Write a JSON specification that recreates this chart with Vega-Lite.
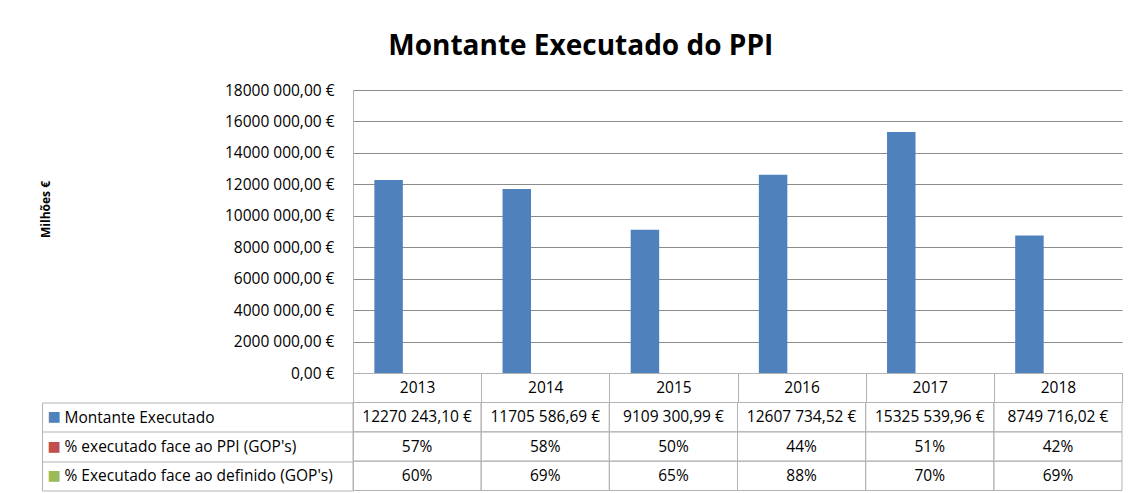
{
  "$schema": "https://vega.github.io/schema/vega-lite/v6.json",
  "padding": {"left": 39, "top": 33, "right": 6, "bottom": 1},
  "background": "white",
  "config": {
    "locale": {"number": {"decimal": ",", "thousands": " ", "grouping": [3, 100], "currency": ["", " €"]}},
    "font": "Open Sans",
    "view": {"stroke": null}
  },
  "title": {"text": "Montante Executado do PPI", "fontSize": 28, "fontWeight": "bold", "font": "Open Sans", "color": "#000000", "anchor": "middle", "offset": 22},
  "datasets": {
    "ppi": [
      {"year": "2013", "series": "Montante Executado", "value": 12270243.10},
      {"year": "2013", "series": "% executado face ao PPI (GOP's)", "value": 0.57},
      {"year": "2013", "series": "% Executado face ao definido (GOP's)", "value": 0.60},
      {"year": "2014", "series": "Montante Executado", "value": 11705586.69},
      {"year": "2014", "series": "% executado face ao PPI (GOP's)", "value": 0.58},
      {"year": "2014", "series": "% Executado face ao definido (GOP's)", "value": 0.69},
      {"year": "2015", "series": "Montante Executado", "value": 9109300.99},
      {"year": "2015", "series": "% executado face ao PPI (GOP's)", "value": 0.50},
      {"year": "2015", "series": "% Executado face ao definido (GOP's)", "value": 0.65},
      {"year": "2016", "series": "Montante Executado", "value": 12607734.52},
      {"year": "2016", "series": "% executado face ao PPI (GOP's)", "value": 0.44},
      {"year": "2016", "series": "% Executado face ao definido (GOP's)", "value": 0.88},
      {"year": "2017", "series": "Montante Executado", "value": 15325539.96},
      {"year": "2017", "series": "% executado face ao PPI (GOP's)", "value": 0.51},
      {"year": "2017", "series": "% Executado face ao definido (GOP's)", "value": 0.70},
      {"year": "2018", "series": "Montante Executado", "value": 8749716.02},
      {"year": "2018", "series": "% executado face ao PPI (GOP's)", "value": 0.42},
      {"year": "2018", "series": "% Executado face ao definido (GOP's)", "value": 0.69}
    ]
  },
  "vconcat": [
    {
      "width": 769,
      "height": 283,
      "data": {"name": "ppi"},
      "mark": {"type": "bar"},
      "encoding": {
        "x": {
          "field": "year", "type": "nominal",
          "scale": {"paddingInner": 0, "paddingOuter": 0},
          "axis": {
            "title": null, "orient": "bottom", "labelAngle": 0,
            "tickBand": "extent", "ticks": true, "tickSize": 29.5, "tickColor": "#b3b3b3",
            "domain": true, "domainColor": "#b3b3b3",
            "labelFont": "Open Sans", "labelFontSize": 15.5, "labelColor": "#000000",
            "labelBaseline": "middle", "labelPadding": -14.75, "grid": false
          }
        },
        "xOffset": {
          "field": "series", "type": "nominal",
          "sort": ["Montante Executado", "% executado face ao PPI (GOP's)", "% Executado face ao definido (GOP's)"],
          "scale": {"paddingInner": 0, "paddingOuter": 0.75}
        },
        "y": {
          "field": "value", "type": "quantitative",
          "scale": {"domain": [0, 18000000], "nice": false},
          "axis": {
            "title": "Milhões €", "titleFont": "Open Sans", "titleFontSize": 12, "titleFontWeight": "bold", "titleColor": "#000000",
            "titleX": -308, "titleY": 119, "titleAngle": -90, "titleBaseline": "middle", "titleAlign": "center",
            "values": [0, 2000000, 4000000, 6000000, 8000000, 10000000, 12000000, 14000000, 16000000, 18000000],
            "format": "$,.2f",
            "grid": true, "gridColor": "#8c8c8c", "gridWidth": 1,
            "ticks": false, "tickSize": 0,
            "domain": true, "domainColor": "#b3b3b3",
            "labelFont": "Open Sans", "labelFontSize": 15.5, "labelColor": "#000000", "labelPadding": 19
          }
        },
        "color": {
          "field": "series", "type": "nominal",
          "scale": {
            "domain": ["Montante Executado", "% executado face ao PPI (GOP's)", "% Executado face ao definido (GOP's)"],
            "range": ["#4F81BD", "#C0504D", "#9BBB59"]
          },
          "legend": null
        }
      }
    },
    {
      "width": 769,
      "height": 88,
      "data": {"name": "ppi"},
      "layer": [
        {
          "mark": {"type": "rect", "fill": "transparent", "stroke": "#b3b3b3", "strokeWidth": 1},
          "encoding": {
            "x": {"field": "year", "type": "nominal", "scale": {"paddingInner": 0, "paddingOuter": 0}, "axis": null},
            "y": {
              "field": "series", "type": "nominal",
              "sort": ["Montante Executado", "% executado face ao PPI (GOP's)", "% Executado face ao definido (GOP's)"],
              "scale": {"paddingInner": 0, "paddingOuter": 0},
              "axis": {
                "orient": "left", "offset": 311, "title": null, "grid": false,
                "domain": true, "domainColor": "#b3b3b3",
                "ticks": false, "tickSize": 0,
                "labelExpr": "'■'", "labelFont": "DejaVu Sans", "labelFontSize": 14,
                "labelAlign": "left", "labelBaseline": "middle", "labelPadding": -5,
                "labelColor": {
                  "condition": [
                    {"test": "datum.value === 'Montante Executado'", "value": "#4F81BD"},
                    {"test": "datum.value === \"% executado face ao PPI (GOP's)\"", "value": "#C0504D"}
                  ],
                  "value": "#9BBB59"
                }
              }
            }
          }
        },
        {
          "mark": {"type": "text", "fontSize": 15.5, "font": "Open Sans", "color": "#000000"},
          "encoding": {
            "x": {"field": "year", "type": "nominal", "axis": null},
            "y": {
              "field": "series", "type": "nominal",
              "sort": ["Montante Executado", "% executado face ao PPI (GOP's)", "% Executado face ao definido (GOP's)"],
              "scale": {"paddingInner": 0, "paddingOuter": 0},
              "axis": {
                "orient": "left", "title": null, "grid": false,
                "domain": true, "domainColor": "#b3b3b3",
                "ticks": true, "tickBand": "extent", "tickSize": 311, "tickColor": "#b3b3b3",
                "labelFont": "Open Sans", "labelFontSize": 15.5, "labelColor": "#000000",
                "labelAlign": "left", "labelBaseline": "middle", "labelPadding": -22, "labelLimit": 300
              }
            },
            "text": {
              "condition": {"test": "datum.series === 'Montante Executado'", "field": "value", "type": "quantitative", "format": "$,.2f"},
              "field": "value", "type": "quantitative", "format": ".0%"
            }
          }
        }
      ],
      "resolve": {"scale": {"y": "independent"}, "axis": {"y": "independent"}}
    }
  ],
  "spacing": 29.5,
  "bounds": "flush"
}
